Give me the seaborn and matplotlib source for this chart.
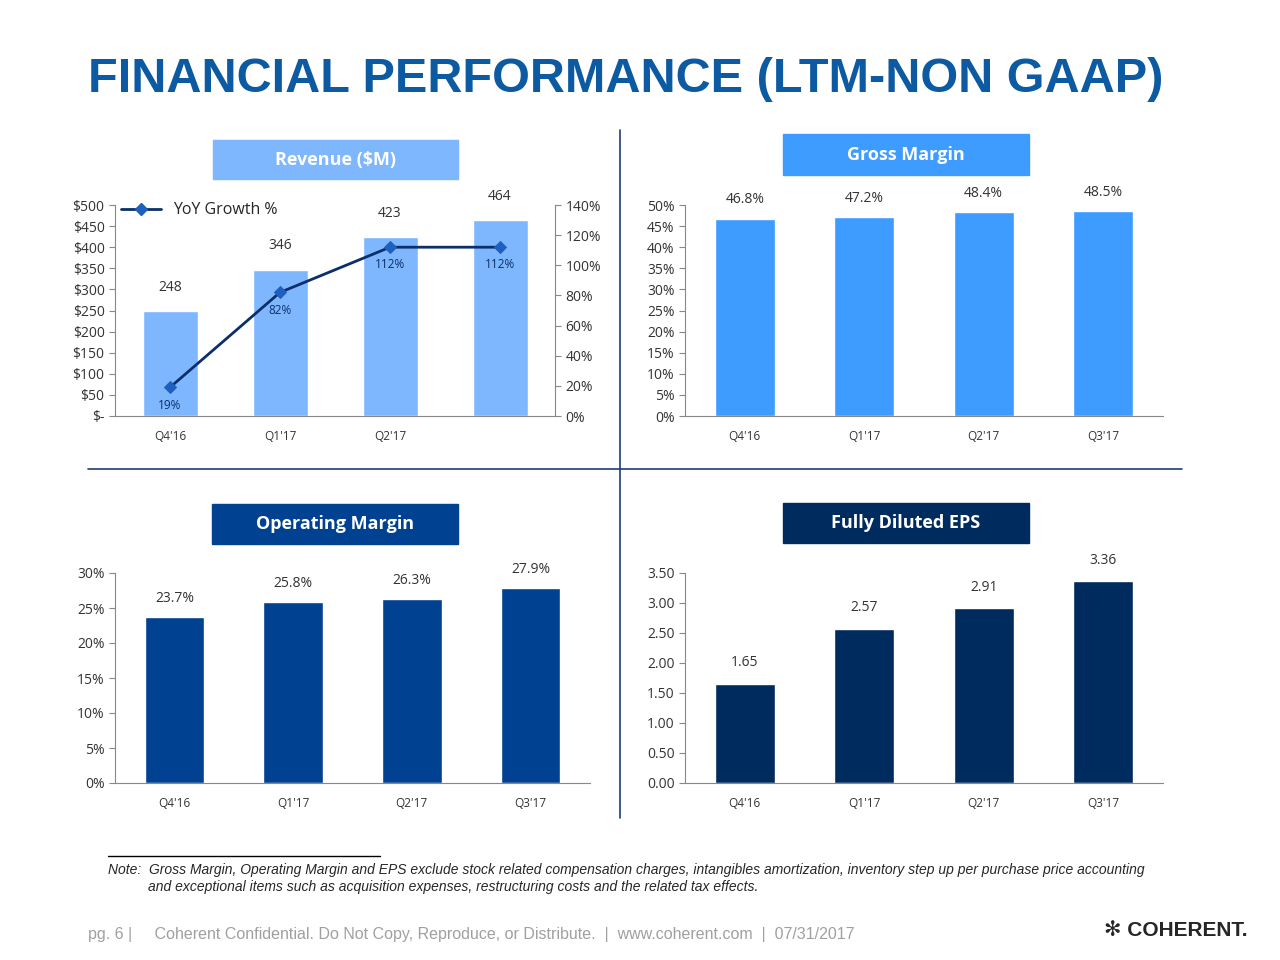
import matplotlib
matplotlib.use("Agg")
import matplotlib.pyplot as plt
import seaborn as sns
import pandas as pd
from matplotlib.patches import Rectangle
from matplotlib.lines import Line2D

sns.set_style("white")
plt.rcParams['font.family'] = ['Open Sans', 'DejaVu Sans']

quarters = ["Q4'16", "Q1'17", "Q2'17", "Q3'17"]
rev_ticklabels = ["Q4'16", "Q1'17", "Q2'17", ""]
revenue = [248, 346, 423, 464]
yoy_growth = [19, 82, 112, 112]
gross_margin = [46.8, 47.2, 48.4, 48.5]
op_margin = [23.7, 25.8, 26.3, 27.9]
eps = [1.65, 2.57, 2.91, 3.36]

W, H = 1280, 960
fig = plt.figure(figsize=(12.8, 9.6), dpi=100)

def box(x0, y0, x1, y1):
    return [x0 / W, 1 - y1 / H, (x1 - x0) / W, (y1 - y0) / H]

def style(ax):
    for s in ["top", "right"]:
        ax.spines[s].set_visible(False)
    for s in ["left", "bottom"]:
        ax.spines[s].set_color("#888888")
    ax.tick_params(axis="y", labelsize=10, colors="#333333", left=True, length=4, color="#888888")
    ax.tick_params(axis="x", labelsize=8.5, colors="#333333", bottom=True, length=0, pad=10)
    ax.set_xlabel("")
    ax.set_ylabel("")

def header(x0, y0, x1, y1, text, color):
    fig.patches.append(Rectangle((x0 / W, 1 - y1 / H), (x1 - x0) / W, (y1 - y0) / H,
                                 transform=fig.transFigure, color=color))
    fig.text((x0 + x1) / 2 / W, 1 - (y0 + y1) / 2 / H, text, color="white",
             fontsize=13, fontweight="bold", ha="center", va="center")

# Revenue
ax1 = fig.add_axes(box(115, 205, 555, 416))
df = pd.DataFrame({"q": quarters, "v": revenue})
sns.barplot(data=df, x="q", y="v", color="#7FB7FF", saturation=1, width=0.5, ax=ax1)
ax1.set_ylim(0, 500)
ax1.set_yticks(range(0, 501, 50))
ax1.set_yticklabels(["$-"] + [f"${v}" for v in range(50, 501, 50)])
ax1.set_xticks(range(4))
ax1.set_xticklabels(rev_ticklabels)
ax1.bar_label(ax1.containers[0], labels=[str(v) for v in revenue], padding=12, fontsize=10, color="#333333")
style(ax1)
ax1.set_xlim(-0.5, 3.5)
ax1b = ax1.twinx()
sns.lineplot(x=list(range(4)), y=yoy_growth, marker="D", color="#0A2F6B", lw=2, markersize=6,
             markerfacecolor="#1F5FC0", markeredgecolor="#1F5FC0", ax=ax1b)
ax1b.set_ylim(0, 140)
ax1b.set_yticks(range(0, 141, 20))
ax1b.set_yticklabels([f"{v}%" for v in range(0, 141, 20)])
ax1b.tick_params(axis="y", labelsize=10, colors="#333333", right=True, length=4, color="#888888")
for s in ["top", "left", "bottom"]:
    ax1b.spines[s].set_visible(False)
ax1b.spines["right"].set_color("#888888")
ax1b.set_xlim(-0.5, 3.5)
offs = [-8, -8, -7, -7]
for i, g in enumerate(yoy_growth):
    ax1b.text(i, g + offs[i], f"{g}%", ha="center", va="top", fontsize=8.5, color="#0A2F6B")
ax1.legend(handles=[Line2D([], [], color="#0A2F6B", marker="D", markerfacecolor="#1F5FC0",
                           markeredgecolor="#1F5FC0", lw=2)],
           labels=["YoY Growth %"], loc="upper left", frameon=False, fontsize=11.5,
           bbox_to_anchor=(-0.02, 1.08), handlelength=2.5)

def simple(axbox, vals, color, ylim, ticks, fmt, lblfmt, pad):
    ax = fig.add_axes(box(*axbox))
    d = pd.DataFrame({"q": quarters, "v": vals})
    sns.barplot(data=d, x="q", y="v", color=color, saturation=1, width=0.5, ax=ax)
    ax.set_ylim(*ylim)
    ax.set_yticks(ticks)
    ax.set_yticklabels([fmt(t) for t in ticks])
    ax.bar_label(ax.containers[0], labels=[lblfmt(v) for v in vals], padding=pad,
                 fontsize=10, color="#333333")
    style(ax)
    ax.set_xlim(-0.5, 3.5)
    return ax

simple((685, 205, 1163, 416), gross_margin, "#3E9BFF", (0, 50), [0, 5, 10, 15, 20, 25, 30, 35, 40, 45, 50],
       lambda t: f"{t}%", lambda v: f"{v:.1f}%", 8)
simple((115, 573, 590, 783), op_margin, "#004191", (0, 30), [0, 5, 10, 15, 20, 25, 30],
       lambda t: f"{t}%", lambda v: f"{v:.1f}%", 8)
simple((685, 573, 1163, 783), eps, "#002B5E", (0, 3.5), [0, 0.5, 1, 1.5, 2, 2.5, 3, 3.5],
       lambda t: f"{t:.2f}", lambda v: f"{v:.2f}", 10)

header(213, 140, 458, 179, "Revenue ($M)", "#7FB7FF")
header(783, 134, 1029, 175, "Gross Margin", "#3E9BFF")
header(212, 504, 458, 544, "Operating Margin", "#004191")
header(783, 503, 1029, 543, "Fully Diluted EPS", "#002B5E")

fig.text(88 / W, 1 - 80 / H, "FINANCIAL PERFORMANCE (LTM-NON GAAP)", color="#0B5AA2",
         fontsize=35, fontweight="bold", family="Liberation Sans", va="center")

fig.add_artist(Line2D([620 / W, 620 / W], [1 - 130 / H, 1 - 818 / H], color="#1F3F6F", lw=1.2))
fig.add_artist(Line2D([88 / W, 1182 / W], [1 - 469 / H, 1 - 469 / H], color="#1F3F6F", lw=1.2))
fig.add_artist(Line2D([108 / W, 380 / W], [1 - 856 / H, 1 - 856 / H], color="black", lw=1))

fig.text(108 / W, 1 - 870 / H,
         "Note:  Gross Margin, Operating Margin and EPS exclude stock related compensation charges, intangibles amortization, inventory step up per purchase price accounting",
         fontsize=10, style="italic", family="Liberation Sans", va="center")
fig.text(148 / W, 1 - 887 / H,
         "and exceptional items such as acquisition expenses, restructuring costs and the related tax effects.",
         fontsize=10, style="italic", family="Liberation Sans", va="center")
fig.text(88 / W, 1 - 934 / H,
         "pg. 6 |     Coherent Confidential. Do Not Copy, Reproduce, or Distribute.  |  www.coherent.com  |  07/31/2017",
         fontsize=11.5, color="#A0A0A0", family="Liberation Sans", va="center")
fig.text(1248 / W, 1 - 930 / H, "✻ COHERENT.", fontsize=15, fontweight="bold",
         family=["Liberation Sans", "DejaVu Sans"], ha="right", va="center")

fig.savefig("out.png", dpi=100)
